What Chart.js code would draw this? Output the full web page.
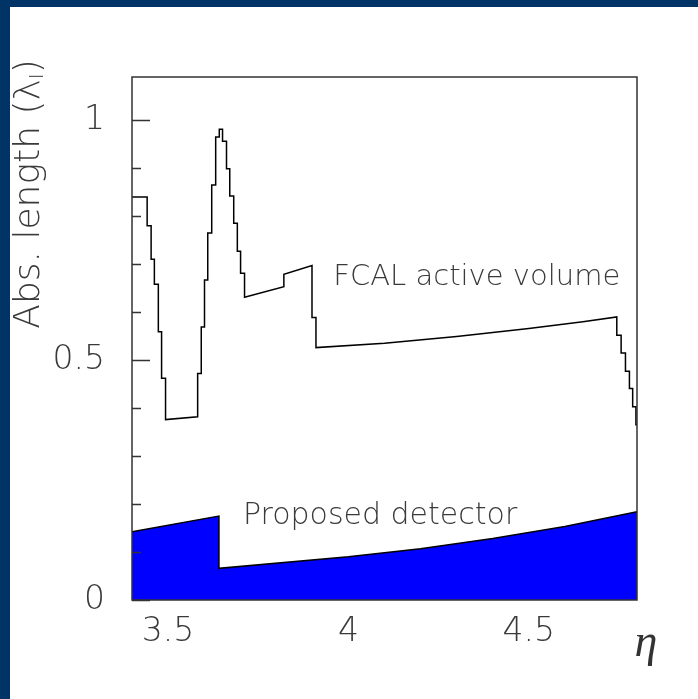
<!DOCTYPE html>
<html>
<head>
<meta charset="utf-8">
<script src="https://cdn.jsdelivr.net/npm/chart.js@4.4.1/dist/chart.umd.min.js"></script>
<style>
  body { margin: 0; background: #fff; }
  #wrap { position: relative; width: 698px; height: 699px; }
  .bar { position: absolute; background: #003366; }
</style>
</head>
<body>
<div id="wrap">
  <canvas id="myChart" width="698" height="699"></canvas>
  <div class="bar" style="left:0;top:0;width:698px;height:7px"></div>
  <div class="bar" style="left:0;top:0;width:10px;height:699px"></div>
</div>
<script>
'use strict';

// FCAL active volume (stepped outline)
const fcalEta = [3.4, 3.442, 3.442, 3.453, 3.453, 3.462, 3.462, 3.473, 3.473, 3.482, 3.482, 3.493, 3.493,
  3.582, 3.582, 3.592, 3.592, 3.601, 3.601, 3.610, 3.610, 3.621, 3.621, 3.632, 3.632, 3.642, 3.642,
  3.651, 3.651, 3.662, 3.662, 3.671, 3.671, 3.682, 3.682, 3.692, 3.692, 3.701, 3.701, 3.712, 3.712,
  3.821, 3.821, 3.899, 3.899, 3.910, 3.910, 4.1, 4.3, 4.5, 4.65, 4.744,
  4.744, 4.756, 4.756, 4.768, 4.768, 4.779, 4.779, 4.788, 4.788, 4.797, 4.797, 4.8];
const fcalAbs = [0.840, 0.840, 0.780, 0.780, 0.710, 0.710, 0.658, 0.658, 0.559, 0.559, 0.462, 0.462, 0.376,
  0.382, 0.472, 0.472, 0.569, 0.569, 0.667, 0.667, 0.765, 0.765, 0.865, 0.865, 0.965, 0.965, 0.981,
  0.981, 0.956, 0.956, 0.899, 0.899, 0.842, 0.842, 0.785, 0.785, 0.727, 0.727, 0.681, 0.681, 0.631,
  0.653, 0.679, 0.697, 0.589, 0.589, 0.526, 0.535, 0.549, 0.566, 0.580, 0.590,
  0.552, 0.552, 0.515, 0.515, 0.477, 0.477, 0.441, 0.441, 0.403, 0.403, 0.365, 0.365];

// proposed detector (filled)
const detEta = [3.4, 3.641, 3.641, 4.0, 4.2, 4.4, 4.6, 4.8];
const detAbs = [0.142, 0.175, 0.066, 0.090, 0.107, 0.128, 0.153, 0.184];

const xTicks = [3.5, 4, 4.5];
const xTickLabels = ['3.5', '4', '4.5'];
const yTicks = [0, 0.5, 1];
const yTickLabels = ['0', '0.5', '1'];
const yMinor = [0.1, 0.2, 0.3, 0.4, 0.6, 0.7, 0.8, 0.9];

const textFont = '"DejaVu Sans", sans-serif';
const textColor = '#3a3a3a';

function toPoints(xs, ys) {
  return xs.map((x, i) => ({ x: x, y: ys[i] }));
}

// frame, inner ticks and all free text
const decor = {
  id: 'decor',
  afterDatasetsDraw(chart) {
    const ctx = chart.ctx;
    const a = chart.chartArea;
    const xs = chart.scales.x;
    const ys = chart.scales.y;
    ctx.save();
    ctx.strokeStyle = '#333';
    ctx.lineWidth = 1.5;
    ctx.strokeRect(a.left, a.top, a.right - a.left, a.bottom - a.top);

    ctx.beginPath();
    yTicks.forEach(v => {
      const py = Math.round(ys.getPixelForValue(v)) + 0.5;
      ctx.moveTo(a.left, py);
      ctx.lineTo(a.left + 18, py);
    });
    yMinor.forEach(v => {
      const py = Math.round(ys.getPixelForValue(v)) + 0.5;
      ctx.moveTo(a.left, py);
      ctx.lineTo(a.left + 9, py);
    });
    ctx.stroke();

    ctx.fillStyle = textColor;
    ctx.textBaseline = 'middle';
    ctx.textAlign = 'left';
    ctx.font = '200 29px ' + textFont;
    ctx.fillText('FCAL active volume', xs.getPixelForValue(3.958), ys.getPixelForValue(0.673));
    ctx.font = '200 30px ' + textFont;
    ctx.fillText('Proposed detector', xs.getPixelForValue(3.7075), ys.getPixelForValue(0.175));

    // eta
    ctx.textAlign = 'center';
    ctx.font = 'italic 46px "Liberation Serif", serif';
    ctx.fillStyle = '#333';
    ctx.fillText('η', 646, 644);

    // y title with subscript
    ctx.translate(30, 194);
    ctx.rotate(-Math.PI / 2);
    ctx.fillStyle = textColor;
    ctx.textAlign = 'left';
    const big = '200 36px ' + textFont;
    const small = '200 20px ' + textFont;
    ctx.font = big;
    const p1 = 'Abs. length (λ';
    const w1 = ctx.measureText(p1).width;
    ctx.font = small;
    const wI = ctx.measureText('I').width;
    ctx.font = big;
    const w2 = ctx.measureText(')').width;
    let x0 = -(w1 + wI + w2) / 2;
    ctx.fillText(p1, x0, 0);
    ctx.font = small;
    ctx.fillText('I', x0 + w1, 8);
    ctx.font = big;
    ctx.fillText(')', x0 + w1 + wI, 0);
    ctx.restore();
  }
};

const ctx = document.getElementById('myChart').getContext('2d');
const myChart = new Chart(ctx, {
  type: 'line',
  data: {
    datasets: [{
      label: 'Proposed detector',
      data: toPoints(detEta, detAbs),
      borderColor: '#000',
      borderWidth: 1.5,
      backgroundColor: '#0000ff',
      fill: 'origin',
      pointRadius: 0,
      tension: 0
    }, {
      label: 'FCAL active volume',
      data: toPoints(fcalEta, fcalAbs),
      borderColor: '#000',
      borderWidth: 1.5,
      fill: false,
      pointRadius: 0,
      tension: 0
    }]
  },
  options: {
    responsive: false,
    animation: false,
    layout: { padding: { left: 10, top: 77, right: 61, bottom: 0 } },
    plugins: { legend: { display: false }, tooltip: { enabled: false } },
    scales: {
      x: {
        type: 'linear',
        min: 3.4,
        max: 4.8,
        grid: { display: false },
        border: { display: false },
        afterBuildTicks: s => { s.ticks = xTicks.map(v => ({ value: v })); },
        afterFit: s => { s.height = 99; },
        ticks: {
          padding: 5,
          maxRotation: 0,
          font: { family: textFont, size: 33, weight: '200' },
          color: textColor,
          callback: v => xTickLabels[xTicks.indexOf(v)]
        }
      },
      y: {
        min: 0,
        max: 1.09,
        grid: { display: false },
        border: { display: false },
        afterBuildTicks: s => { s.ticks = yTicks.map(v => ({ value: v })); },
        afterFit: s => { s.width = 122; },
        ticks: {
          padding: 19,
          font: { family: textFont, size: 33, weight: '200' },
          color: textColor,
          callback: v => yTickLabels[yTicks.indexOf(v)]
        }
      }
    }
  },
  plugins: [decor]
});
</script>
</body>
</html>
